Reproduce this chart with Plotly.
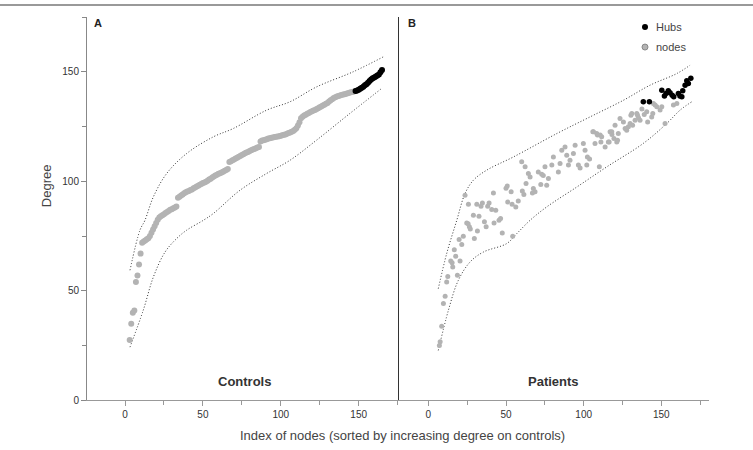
import plotly.graph_objects as go

# ---------------- DATA ----------------
# Controls: degree of nodes sorted by increasing degree (index starts at 3)
ctrl_start = 3
ctrl_nodes_deg = [
    27.5, 35, 40, 41, 54, 57, 62, 67, 72, 72.5, 73, 73.5, 74, 75, 76.5, 78, 79.5, 81, 82.5, 83.5,
    84, 84.5, 85, 85.5, 86, 86.5, 87, 87.3, 87.7, 88, 88.5, 92.5, 93, 93.5, 94, 94.5, 95, 95.3,
    95.6, 96, 96.3, 96.8, 97.2, 97.6, 98, 98.4, 98.8, 99.2, 99.5, 99.8, 100.3, 100.8, 101.2,
    101.7, 102.2, 102.6, 103, 103.4, 103.7, 104, 104.4, 104.8, 105.2, 105.6, 108.8, 109.2,
    109.6, 110, 110.4, 110.8, 111.2, 111.6, 112, 112.4, 112.8, 113.1, 113.4, 113.8, 114.2,
    114.5, 114.8, 115.1, 115.4, 115.7, 118.2, 118.6, 118.8, 119, 119.2, 119.5, 119.7, 119.9,
    120, 120.2, 120.3, 120.5, 120.6, 120.8, 121, 121.2, 121.4, 121.7, 122, 122.3, 122.6, 123,
    123.5, 124.2, 125.5, 127, 128.8, 129.5, 130, 130.4, 130.8, 131.2, 131.6, 132, 132.3, 132.6,
    133, 133.4, 133.8, 134.2, 134.6, 135, 135.4, 135.8, 136.4, 137, 137.5, 138, 138.4, 138.7,
    139, 139.2, 139.4, 139.6, 139.8, 140, 140.2, 140.4, 140.6, 140.8, 141,
]
ctrl_hubs_deg = [141.2, 141.5, 141.8, 142.2, 142.7, 143.2, 143.8, 144.3, 145, 145.8, 146.5,
                 147, 147.4, 147.8, 148.3, 148.8, 149.8, 150.8]

ctrl_upper_x = [3.2, 9.6, 12.8, 18.2, 26.8, 39.6, 56.7, 69.5, 91, 105.9, 123, 146.5, 165.8]
ctrl_upper_y = [59.4, 77.7, 82.2, 92.9, 103.6, 112.7, 120.3, 124.1, 132.5, 136.3, 143.1, 150, 156.8]
ctrl_lower_x = [3.2, 11.7, 18.2, 25.7, 33.2, 39.6, 50.3, 56.7, 73.8, 91, 105.9, 123, 144.4, 164.8]
ctrl_lower_y = [24.3, 41.1, 56.3, 67.7, 73.9, 77.7, 82.2, 85.3, 95.9, 103.6, 109.6, 118.8, 131, 142.4]

# Patients (same node order)
pat_nodes_x = [
    7.1, 7.6, 8.6, 9.7, 10.8, 11.8, 12.5, 14.4, 15.3, 15.7, 16.7, 17.6, 18.7, 19.8, 20.4, 21.5,
    22.5, 23.6, 24.7, 25.6, 25.8, 26.4, 27.0, 29.0, 29.6, 31.2, 31.6, 32.6, 33.9, 34.8, 36.1,
    37.2, 38.2, 39.1, 40.8, 41.9, 42.3, 43.4, 45.5, 46.5, 47.6, 50.0, 50.8, 51.1, 53.3, 53.9,
    54.3, 56.3, 57.9, 60.1, 60.5, 61.5, 62.3, 62.9, 64.4, 65.5, 67.0, 67.6, 68.7, 70.8, 72.4,
    73.0, 74.0, 75.1, 76.2, 77.3, 79.5, 80.5, 83.7, 84.8, 85.9, 88.0, 89.1, 90.2, 91.2, 93.4,
    94.5, 96.6, 97.7, 99.8, 100.9, 102.0, 102.4, 103.8, 105.9, 106.3, 107.3, 108.4, 108.9,
    110.1, 110.6, 111.1, 111.6, 113.8, 115.9, 116.4, 117.0, 118.1, 118.2, 119.5, 120.2, 121.3,
    121.8, 122.3, 123.4, 125.6, 126.7, 127.7, 128.8, 129.9, 130.4, 131.0, 131.5, 133.1, 134.2,
    134.7, 135.3, 136.3, 137.5, 139.0, 140.6, 141.2, 143.8, 144.5, 144.9, 146.0, 147.1, 149.2,
    150.3, 152.4, 157.8, 160.0,
]
pat_nodes_y = [
    25.1, 26.8, 33.8, 44.2, 47.5, 54.0, 56.6, 63.6, 62.8, 60.9, 68.8, 65.8, 57.1, 73.4, 63.6, 71.2,
    74.9, 93.6, 81.0, 80.6, 89.5, 79.3, 78.2, 84.5, 73.9, 89.5, 77.3, 84.1, 88.6, 90.1, 81.5,
    79.2, 88.6, 90.1, 87.1, 94.7, 81.0, 86.8, 82.2, 83.0, 76.4, 96.8, 97.9, 90.6, 95.2, 89.5,
    74.9, 88.3, 91.0, 108.9, 95.6, 94.0, 106.6, 99.0, 103.6, 102.0, 94.7, 96.7, 95.2, 104.3, 98.5,
    103.2, 102.6, 106.6, 98.2, 101.3, 107.4, 111.1, 104.3, 108.1, 114.2, 115.7, 111.9, 107.4,
    109.6, 112.7, 116.5, 107.4, 106.1, 117.3, 114.2, 107.4, 111.1, 110.2, 122.6, 122.6, 117.3,
    121.8, 121.1, 106.6, 121.1, 118.0, 120.3, 115.7, 118.0, 118.0, 122.6, 122.6, 121.4, 119.5,
    125.6, 118.0, 118.8, 121.8, 128.7, 127.1, 124.1, 123.3, 124.9, 126.4, 130.2, 131.0, 125.6,
    127.9, 131.0, 130.2, 129.0, 127.9, 133.0, 130.5, 131.7, 127.1, 129.4, 131.0, 135.5, 134.8,
    134.0, 132.5, 134.0, 126.4, 134.8, 135.5,
]
pat_hubs_x = [138.4, 142.3, 150.3, 152.0, 153.0, 154.5, 155.6, 157.0, 158.0, 161.0, 162.0,
              163.2, 163.8, 165.3, 166.4, 167.4, 169.0]
pat_hubs_y = [136.3, 136.3, 141.6, 139.0, 140.1, 141.3, 140.4, 139.3, 138.6, 140.1, 138.9,
              138.6, 141.3, 143.9, 145.9, 144.7, 147.0]

pat_upper_x = [6.4, 11.8, 18.3, 23.6, 29, 37.6, 54.7, 82.7, 104.1, 125.6, 142.8, 160, 168.5]
pat_upper_y = [51, 67, 82.2, 94.4, 100.5, 105.1, 111.1, 121.8, 129.4, 137, 143.9, 149.2, 153]
pat_lower_x = [6.4, 12.9, 19.3, 26.9, 35.4, 50.5, 56.9, 65.5, 76.2, 95.6, 114.9, 138.4, 153.5, 162.1, 169.6]
pat_lower_y = [22.8, 41.1, 54.8, 63.2, 67.7, 71.6, 76.1, 82.2, 88.3, 97.4, 106.6, 117.3, 126.4, 132.5, 136.3]

x_ticks = [0, 50, 100, 150]
y_ticks = [0, 50, 100, 150]

# ---------------- FIGURE ----------------
W, H = 753, 450
HEFF = 444.6   # rendered vertical extent observed in the viewer
GRAY = "#b3b3b3"
FONT = "Arial, Liberation Sans, Helvetica, sans-serif"

ctrl_nodes_x = list(range(ctrl_start, ctrl_start + len(ctrl_nodes_deg)))
hub_start = ctrl_start + len(ctrl_nodes_deg)
ctrl_hubs_x = list(range(hub_start, hub_start + len(ctrl_hubs_deg)))

fig = go.Figure()
env = dict(mode="lines", line=dict(color="#333", width=1, dash="1px,2px", shape="spline"),
           hoverinfo="skip", showlegend=False)
fig.add_trace(go.Scatter(x=ctrl_upper_x, y=ctrl_upper_y, xaxis="x", yaxis="y", **env))
fig.add_trace(go.Scatter(x=ctrl_lower_x, y=ctrl_lower_y, xaxis="x", yaxis="y", **env))
fig.add_trace(go.Scatter(x=pat_upper_x, y=pat_upper_y, xaxis="x2", yaxis="y2", **env))
fig.add_trace(go.Scatter(x=pat_lower_x, y=pat_lower_y, xaxis="x2", yaxis="y2", **env))

fig.add_trace(go.Scatter(x=ctrl_nodes_x, y=ctrl_nodes_deg, mode="markers", xaxis="x", yaxis="y",
                         marker=dict(color=GRAY, size=6), showlegend=False))
fig.add_trace(go.Scatter(x=ctrl_hubs_x, y=ctrl_hubs_deg, mode="markers", xaxis="x", yaxis="y",
                         marker=dict(color="black", size=6), showlegend=False))
fig.add_trace(go.Scatter(x=pat_nodes_x, y=pat_nodes_y, mode="markers", xaxis="x2", yaxis="y2",
                         marker=dict(color=GRAY, size=5), showlegend=False))
fig.add_trace(go.Scatter(x=pat_hubs_x, y=pat_hubs_y, mode="markers", xaxis="x2", yaxis="y2",
                         marker=dict(color="black", size=5.5), showlegend=False))

def px(x):
    return x / W

def py(y):
    return 1 - y / HEFF

xcommon = dict(showgrid=False, zeroline=False, showline=True, linecolor="#999", linewidth=1,
               ticks="outside", ticklen=5, tickcolor="#999", tickvals=x_ticks,
               tickfont=dict(size=10, color="#333", family=FONT),
               minor=dict(dtick=25, tick0=0, ticks="outside", ticklen=4, tickcolor="#999"),
               fixedrange=True)
fig.update_layout(
    width=W, height=H, margin=dict(l=0, r=0, t=0, b=0),
    paper_bgcolor="white", plot_bgcolor="white",
    font=dict(family=FONT, color="#333"),
    xaxis=dict(domain=[px(87), px(399)], range=[-24.4, 175.9], anchor="y", **xcommon),
    xaxis2=dict(domain=[px(399), px(709)], range=[-18.9, 180.7], anchor="y2", **xcommon),
    yaxis=dict(domain=[py(400), py(17)], range=[0, 175], anchor="x", showgrid=False, zeroline=False,
               showline=True, linecolor="#888", linewidth=1, ticks="outside", ticklen=5,
               tickcolor="#888", tickvals=y_ticks, tickfont=dict(size=10, color="#333", family=FONT),
               minor=dict(dtick=25, tick0=0, ticks="outside", ticklen=4, tickcolor="#888"),
               fixedrange=True),
    yaxis2=dict(domain=[py(400), py(17)], range=[0, 175], anchor="x2", showgrid=False,
                zeroline=False, showline=True, linecolor="#333", linewidth=1.2,
                showticklabels=False, ticks="", fixedrange=True),
    showlegend=False,
)

ann = []
ann.append(dict(text="<b>A</b>", x=px(92), y=py(23), xanchor="left", yanchor="middle",
                font=dict(size=11, color="#222")))
ann.append(dict(text="<b>B</b>", x=px(406), y=py(23), xanchor="left", yanchor="middle",
                font=dict(size=11, color="#222")))
ann.append(dict(text="<b>Controls</b>", x=px(244), y=py(381), xanchor="center", yanchor="middle",
                font=dict(size=13, color="#333")))
ann.append(dict(text="<b>Patients</b>", x=px(553), y=py(381), xanchor="center", yanchor="middle",
                font=dict(size=13, color="#333")))
ann.append(dict(text="Degree", x=px(46), y=py(186), xanchor="center", yanchor="middle",
                textangle=-90, font=dict(size=13, color="#444")))
ann.append(dict(text="Index of nodes (sorted by increasing degree on controls)", x=px(402),
                y=py(435), xanchor="center", yanchor="middle", font=dict(size=13, color="#444")))
ann.append(dict(text="Hubs", x=px(654), y=py(27), xanchor="left", yanchor="middle",
                font=dict(size=11, color="#444")))
ann.append(dict(text="nodes", x=px(654), y=py(47), xanchor="left", yanchor="middle",
                font=dict(size=11, color="#444")))
for a in ann:
    a.update(xref="paper", yref="paper", showarrow=False)
fig.update_layout(annotations=ann)

shapes = [
    dict(type="line", xref="paper", yref="paper", x0=0, x1=1, y0=py(5), y1=py(5),
         line=dict(color="#777", width=1.5)),
    dict(type="circle", xref="paper", yref="paper", x0=px(642), x1=px(648), y0=py(24), y1=py(30),
         fillcolor="black", line=dict(color="black", width=0)),
    dict(type="circle", xref="paper", yref="paper", x0=px(642), x1=px(648), y0=py(44), y1=py(50),
         fillcolor=GRAY, line=dict(color="#888", width=1)),
]
fig.update_layout(shapes=shapes)

fig.write_html("out.html")
